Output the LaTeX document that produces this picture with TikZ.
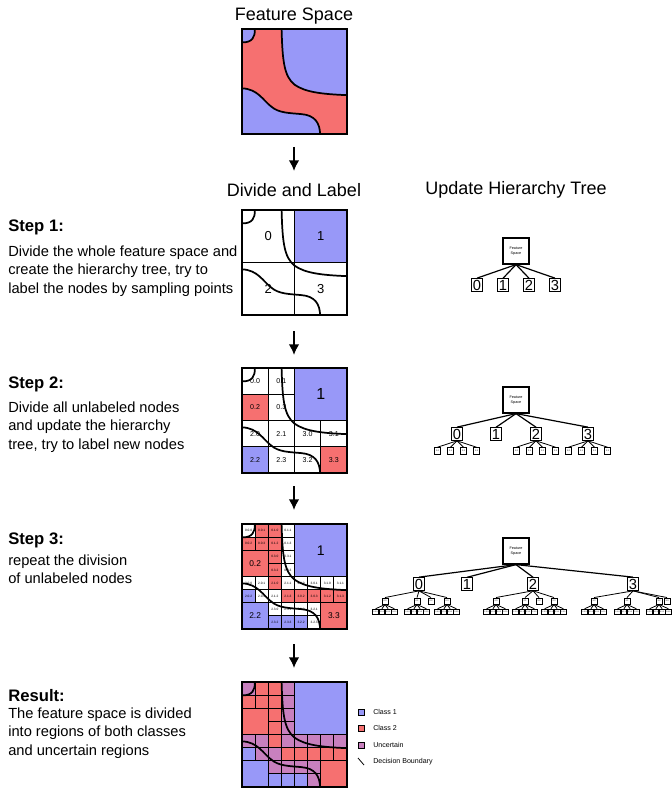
\documentclass[tikz,border=0pt]{standalone}
\usepackage{fontspec}
\setmainfont{Liberation Sans}
\usetikzlibrary{arrows.meta}

\definecolor{clsblue}{RGB}{152,152,248}
\definecolor{clsred}{RGB}{246,112,112}
\definecolor{clsmix}{RGB}{200,128,190}

\tikzset{
  sqframe/.style={line width=1.2pt},
  gridline/.style={draw=black,line width=0.9pt},
  bndline/.style={line width=1.3pt},
  clsA/.style={fill=clsblue},
  clsB/.style={fill=clsred},
  unsure/.style={fill=white},
  arr/.style={line width=1.4pt,-{Latex[length=8pt,width=8pt]}},
  title/.style={font=\fontsize{13.5}{16}\selectfont},
  steplab/.style={anchor=west,inner sep=0,font=\fontsize{12.5}{15}\selectfont\bfseries},
  stepbody/.style={anchor=north west,inner sep=0,align=left,font=\fontsize{11}{13.75}\selectfont},
  qlab/.style={font=\fontsize{9.75}{10}\selectfont},
  biglab/.style={font=\fontsize{12}{12}\selectfont},
  midlab/.style={font=\fontsize{5.3}{6}\selectfont,inner sep=0},
  tinylab/.style={font=\fontsize{2.4}{3}\selectfont,inner sep=0},
  root/.style={draw,line width=0.9pt,minimum size=19.5pt,align=center,inner sep=0,font=\fontsize{2.8}{3.3}\selectfont},
  kid/.style={draw,line width=0.9pt,inner sep=0.8pt,font=\fontsize{11}{11}\selectfont},
  sub/.style={draw,line width=0.7pt,minimum size=5pt,inner sep=0,font=\fontsize{1.6}{2}\selectfont},
  leaf/.style={draw,line width=0.6pt,minimum size=4.2pt,inner sep=0,font=\fontsize{1.4}{2}\selectfont},
  link/.style={line width=0.9pt},
  thinlink/.style={line width=0.6pt},
  swatch/.style={draw,line width=0.6pt,minimum size=4.5pt,inner sep=0},
  keytext/.style={anchor=west,inner sep=0,font=\fontsize{5.3}{6}\selectfont},
}

% decision boundary, unit square, y pointing down
\newcommand\bndcorner{(0,0.128) .. controls (0.1,0.128) and (0.123,0.08) .. (0.123,0)}
\newcommand\bndupper{(0.377,0) .. controls (0.385,0.3) and (0.4,0.45) .. (0.5,0.53) .. controls (0.6,0.6) and (0.75,0.62) .. (1,0.63)}
\newcommand\bndlower{(0,0.565) .. controls (0.15,0.57) and (0.2,0.68) .. (0.28,0.74) .. controls (0.35,0.8) and (0.45,0.8) .. (0.56,0.81) .. controls (0.7,0.82) and (0.74,0.9) .. (0.744,1)}
\newcommand\bndall{\draw[bndline] \bndcorner \bndupper \bndlower;}

% col/row/class/name of the 1/8 cells
\newcommand\finecells{0/0/unsure/0.0.0, 1/0/clsB/0.0.1, 2/0/clsB/0.1.0, 3/0/unsure/0.1.1,
  0/1/clsB/0.0.2, 1/1/clsB/0.0.3, 2/1/clsB/0.1.2, 3/1/unsure/0.1.3,
  2/2/clsB/0.3.0, 3/2/unsure/0.3.1, 2/3/clsB/0.3.2, 3/3/unsure/0.3.3,
  0/4/unsure/2.0.0, 1/4/unsure/2.0.1, 2/4/clsB/2.1.0, 3/4/unsure/2.1.1,
  4/4/unsure/3.0.0, 5/4/unsure/3.0.1, 6/4/unsure/3.1.0, 7/4/unsure/3.1.1,
  0/5/clsA/2.0.2, 1/5/unsure/2.0.3, 2/5/unsure/2.1.2, 3/5/clsB/2.1.3,
  4/5/clsB/3.0.2, 5/5/clsB/3.0.3, 6/5/clsB/3.1.2, 7/5/clsB/3.1.3,
  2/6/unsure/2.3.0, 3/6/unsure/2.3.1, 4/6/unsure/3.2.0, 5/6/unsure/3.2.1,
  2/7/clsA/2.3.2, 3/7/clsA/2.3.3, 4/7/clsA/3.2.2, 5/7/unsure/3.2.3}
\newcommand\bigcells{0/2/clsB/0.2, 0/6/clsA/2.2, 6/6/clsB/3.3}

\begin{document}
\begin{tikzpicture}[x=0.75pt,y=-0.75pt]
\fill[white] (0,0) rectangle (671,788);
\useasboundingbox (0,0) rectangle (671,788);

\node[title] (tfs) at (294,16) {Feature Space};
\node[title] (tdl) at (294,190) {Divide and Label};
\node[title] (tuh) at (516,190) {Update Hierarchy Tree};

\begin{scope}[shift={(242,29)},scale=105]
\fill[clsred] (0,0) rectangle (1,1);
\fill[clsblue] (0,0) -- \bndcorner -- cycle;
\fill[clsblue] \bndupper -- (1,0) -- cycle;
\fill[clsblue] \bndlower -- (0,1) -- cycle;
\bndall
\draw[sqframe] (0,0) rectangle (1,1);
\end{scope}

\foreach \i/\ya/\yb in {0/147/171, 1/331/355, 2/486/510, 3/644/668} {
  \coordinate (a\i) at (294,\ya);
  \coordinate (b\i) at (294,\yb);
  \draw[arr] (a\i) -- (b\i);
}

\node[steplab] (st1) at (8,227) {Step 1:};
\node[stepbody] (bd1) at (8,245.5) {Divide the whole feature space and\\create the hierarchy tree, try to\\label the nodes by sampling points};
\node[steplab] (st2) at (8,384) {Step 2:};
\node[stepbody] (bd2) at (8,401.5) {Divide all unlabeled nodes\\and update the hierarchy\\tree, try to label new nodes};
\node[steplab] (st3) at (8,540) {Step 3:};
\node[stepbody] (bd3) at (8,554.5) {repeat the division\\of unlabeled nodes};
\node[steplab] (st4) at (8,696) {Result:};
\node[stepbody] (bd4) at (8,707.5) {The feature space is divided\\into regions of both classes\\and uncertain regions};

\begin{scope}[shift={(242,210)},scale=105]
\fill[clsblue] (0.5,0) rectangle (1,0.5);
\draw[gridline] (0.5,0) -- (0.5,1) (0,0.5) -- (1,0.5);
\foreach \n/\u/\v in {0/0.25/0.25, 1/0.75/0.25, 2/0.25/0.75, 3/0.75/0.75}
  \node[qlab] (q\n) at (\u,\v) {\n};
\bndall
\draw[sqframe] (0,0) rectangle (1,1);
\end{scope}

\begin{scope}[shift={(242,368)},scale=105]
\foreach \c/\r/\k/\t [count=\i] in {0/0/unsure/0.0, 1/0/unsure/0.1, 0/1/clsB/0.2, 1/1/unsure/0.3,
    0/2/unsure/2.0, 1/2/unsure/2.1, 2/2/unsure/3.0, 3/2/unsure/3.1,
    0/3/clsA/2.2, 1/3/unsure/2.3, 2/3/unsure/3.2, 3/3/clsB/3.3} {
  \filldraw[\k,gridline] (\c/4,\r/4) rectangle ++(0.25,0.25);
  \node[midlab] (m\i) at ({(\c+0.5)/4},{(\r+0.5)/4}) {\t};
}
\filldraw[clsA,gridline] (0.5,0) rectangle (1,0.5);
\node[biglab] (m1big) at (0.75,0.25) {1};
\bndall
\draw[sqframe] (0,0) rectangle (1,1);
\end{scope}

\begin{scope}[shift={(242,524)},scale=105]
\foreach \c/\r/\k/\t [count=\i] in \finecells {
  \filldraw[\k,gridline] (\c/8,\r/8) rectangle ++(0.125,0.125);
  \node[tinylab] (f\i) at ({(\c+0.5)/8},{(\r+0.5)/8}) {\t};
}
\foreach \c/\r/\k/\t [count=\i] in \bigcells {
  \filldraw[\k,gridline] (\c/8,\r/8) rectangle ++(0.25,0.25);
  \node[midlab,font=\fontsize{6.3}{7}\selectfont] (g\i) at ({(\c+1)/8},{(\r+1)/8}) {\t};
}
\filldraw[clsA,gridline] (0.5,0) rectangle (1,0.5);
\node[biglab,font=\fontsize{10.5}{11}\selectfont] (g1big) at (0.75,0.25) {1};
\bndall
\draw[sqframe] (0,0) rectangle (1,1);
\end{scope}

\begin{scope}[shift={(242,682)},scale=105,unsure/.style={fill=clsmix}]
\foreach \c/\r/\k/\t in \finecells
  \filldraw[\k,gridline] (\c/8,\r/8) rectangle ++(0.125,0.125);
\foreach \c/\r/\k/\t in \bigcells
  \filldraw[\k,gridline] (\c/8,\r/8) rectangle ++(0.25,0.25);
\filldraw[clsA,gridline] (0.5,0) rectangle (1,0.5);
\bndall
\draw[sqframe] (0,0) rectangle (1,1);
\end{scope}

% hierarchy trees
\node[root] (r1) at (516,251) {Feature\\Space};
\foreach \n/\x in {0/477,1/503,2/529,3/555} {
  \node[kid] (k1-\n) at (\x,285) {\n};
  \draw[link] (r1.south) -- (k1-\n.north);
}

\node[root] (r2) at (516,400) {Feature\\Space};
\foreach \n/\x in {0/457,1/496,2/536,3/588} {
  \node[kid] (k2-\n) at (\x,434) {\n};
  \draw[link] (r2.south) -- (k2-\n.north);
}
\foreach \n in {0,2,3}
  \foreach \m in {0,...,3} {
    \path (k2-\n) ++({(\m-1.5)*13},17) node[sub] (s2-\n\m) {\n.\m};
    \draw[thinlink] (k2-\n.south) -- (s2-\n\m.north);
  }

\node[root] (r3) at (516,551) {Feature\\Space};
\foreach \n/\x in {0/419,1/467,2/533,3/633} {
  \node[kid] (k3-\n) at (\x,584) {\n};
  \draw[link] (r3.south) -- (k3-\n.north);
}
\foreach \n/\m/\x in {0/0/385, 0/1/417, 0/2/431, 0/3/447, 2/0/496, 2/1/525, 2/2/539, 2/3/554,
    3/0/594, 3/1/627, 3/2/659, 3/3/667} {
  \node[sub,minimum size=4.5pt] (s3-\n\m) at (\x,601) {\n.\m};
  \draw[thinlink] (k3-\n.south) -- (s3-\n\m.north);
}
\foreach \n/\m in {0/0, 0/1, 0/3, 2/0, 2/1, 2/3, 3/0, 3/1, 3/2}
  \foreach \j in {0,...,3} {
    \path (s3-\n\m) ++({(\j-1.5)*6.3},11) node[leaf] (l3-\n\m\j) {\n.\m.\j};
    \draw[thinlink] (s3-\n\m.south) -- (l3-\n\m\j.north);
  }

% legend
\node[swatch,fill=clsblue] (lg1) at (361,712) {};
\node[keytext] (lt1) at (373,712) {Class 1};
\node[swatch,fill=clsred] (lg2) at (361,728) {};
\node[keytext] (lt2) at (373,728) {Class 2};
\node[swatch,fill=clsmix] (lg3) at (361,745) {};
\node[keytext] (lt3) at (373,745) {Uncertain};
\draw[thinlink] (358,758) -- (364,765);
\node[keytext] (lt4) at (373,762) {Decision Boundary};
\end{tikzpicture}
\end{document}
